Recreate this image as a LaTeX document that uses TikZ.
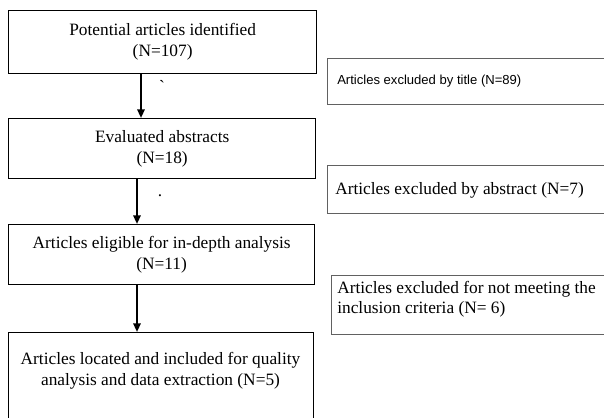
\documentclass[tikz,border=0pt]{standalone}
\usepackage{fontspec}
\setmainfont{Liberation Serif}
\newfontfamily\arialfont{Liberation Sans}
\usetikzlibrary{arrows.meta}
\begin{document}
\begin{tikzpicture}[x=0.75pt,y=-0.75pt,
  mainbox/.style={draw=black, line width=1pt, inner sep=0pt, anchor=north west, align=center,
    font=\fontsize{13}{15.75}\selectfont},
  sidebox/.style={draw=black!62, line width=0.9pt, inner sep=0pt, anchor=north west},
  sidetext/.style={anchor=west, inner sep=0pt, align=left, font=\fontsize{13}{15}\selectfont},
  flow/.style={-{Triangle[length=6.5pt,width=5.5pt]}, line width=1.5pt},
  stray/.style={inner sep=0pt, font=\fontsize{13}{15}\selectfont}]
\useasboundingbox (0,0) rectangle (604,418);
\clip (0,0) rectangle (604,418);
\fill[white] (0,0) rectangle (604,418);

% main column
\node[mainbox, minimum width=231pt, minimum height=47.25pt] (b1) at (8,10)
  {Potential articles identified\\(N=107)};
\node[mainbox, minimum width=230.25pt, minimum height=45pt] (b2) at (8,118)
  {Evaluated abstracts\\(N=18)};
\node[mainbox, minimum width=229.5pt, minimum height=45pt] (b3) at (8,224)
  {Articles eligible for in-depth analysis\\(N=11)};
\node[mainbox, minimum width=228.75pt, minimum height=75pt] (b4) at (8,332) {};
\node[align=center, inner sep=0pt, font=\fontsize{13}{15.75}\selectfont] (t4) at (160.5,371)
  {Articles located and included for quality\\analysis and data extraction (N=5)};

% side boxes
\node[sidebox, minimum width=220pt, minimum height=34.5pt] (r1) at (327,58) {};
\node[anchor=west, inner sep=0pt, font=\arialfont\fontsize{9.8}{12}\selectfont] (s1) at (337,81)
  {Articles excluded by title (N=89)};
\node[sidebox, minimum width=220pt, minimum height=36pt] (r2) at (327,165) {};
\node[sidetext] (s2) at (335,190) {Articles excluded by abstract (N=7)};
\node[sidebox, minimum width=220pt, minimum height=44.25pt] (r3) at (331,275) {};
\node[sidetext] (s3) at (337,299) {Articles excluded for not meeting the\\inclusion criteria (N= 6)};

% arrows
\draw[flow] ([xshift=99.75pt]b1.south west) -- ([xshift=99.75pt]b2.north west);
\draw[flow] ([xshift=96.75pt]b2.south west) -- ([xshift=96.75pt]b3.north west);
\draw[flow] ([xshift=96.75pt]b3.south west) -- ([xshift=96.75pt]b4.north west);

% stray marks
\node[stray] (m1) at (162,86) {\textasciigrave};
\node[stray] (m2) at (160,196) {.};
\end{tikzpicture}
\end{document}
